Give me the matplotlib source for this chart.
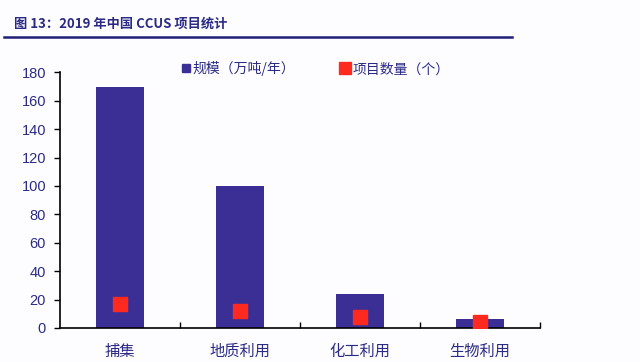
import numpy as np
import matplotlib.pyplot as plt
from matplotlib.lines import Line2D

plt.rcParams['font.family'] = ['Noto Sans CJK SC', 'DejaVu Sans']

categories = ['捕集', '地质利用', '化工利用', '生物利用']
scale = [170, 100, 24, 6]        # 规模（万吨/年）
projects = [17, 12, 8, 4]        # 项目数量（个）

navy = '#2b2b85'
bar_color = '#3b2f95'
red = '#ff2a1f'

fig = plt.figure(figsize=(6.4, 3.62), dpi=100, facecolor='#fdfdff')
ax = fig.add_axes([0.09375, 0.094, 0.75, 0.706])
ax.set_facecolor('#fdfdff')

x = np.arange(len(categories))
ax.bar(x, scale, width=0.4, color=bar_color, zorder=2)
ax.plot(x, projects, linestyle='none', marker='s', markersize=10,
        color=red, zorder=3)

ax.set_xlim(-0.5, len(categories) - 0.5)
ax.set_ylim(0, 180)
ax.set_yticks(np.arange(0, 181, 20))
ax.set_xticks(x)
ax.set_xticklabels(categories, fontsize=11, color=navy)
ax.set_xticks(np.arange(0.5, len(categories), 1), minor=True)
ax.tick_params(axis='x', which='major', length=0, pad=11)
ax.tick_params(axis='x', which='minor', direction='in', length=4, width=1)
ax.tick_params(axis='y', direction='out', length=4, width=1, pad=6,
               labelsize=10.5, labelcolor=navy)
for lab in ax.get_yticklabels():
    lab.set_fontfamily(['Liberation Sans', 'DejaVu Sans'])
for s in ['top', 'right']:
    ax.spines[s].set_visible(False)
for s in ['left', 'bottom']:
    ax.spines[s].set_linewidth(1.2)

handles = [
    Line2D([], [], linestyle='none', marker='s', markersize=6, color=bar_color),
    Line2D([], [], linestyle='none', marker='s', markersize=9, color=red),
]
fig.legend(handles, ['规模（万吨/年）', '项目数量（个）'], ncol=2, frameon=False,
           loc='center left', bbox_to_anchor=(0.262, 0.81), fontsize=10,
           labelcolor=navy, handletextpad=0.1, handlelength=0.8,
           columnspacing=3.2)

# title and rule
fig.text(0.022, 0.934, '图 13：2019 年中国 CCUS 项目统计', fontsize=9.5,
         fontweight='bold', color=navy, va='center', ha='left')
fig.add_artist(Line2D([0.006, 0.8], [0.899, 0.899], color='#1f1f78',
                      linewidth=1.8, transform=fig.transFigure))

fig.savefig('out.png', dpi=100, facecolor=fig.get_facecolor())
